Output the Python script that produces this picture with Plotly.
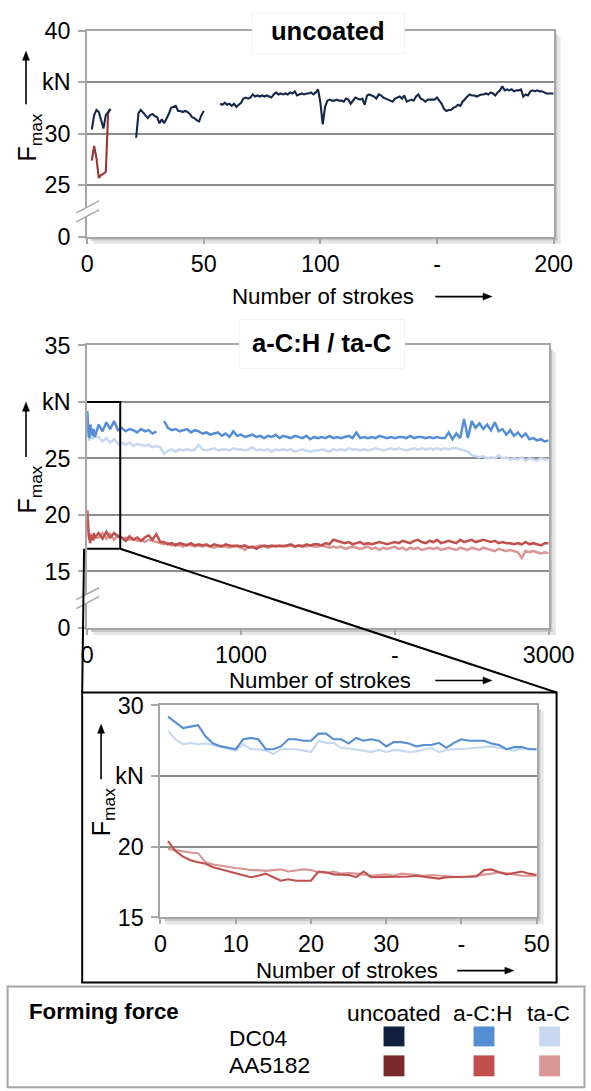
import plotly.graph_objects as go

W, H = 591, 1091
FONT = "Liberation Sans, Arial, sans-serif"

# ---------------- data ----------------
# uncoated (strokes 0..200)
unc_dc04_x = list(range(2, 11)) + [15] + list(range(21, 51)) + [53] + list(range(57, 201))
unc_dc04_y = (
    [30.4, 31.8, 32.3, 32.1, 31.3, 30.5, 31.8, 32.1, 32.4]
    + [None]
    + [29.6, 32.0, 32.3, 32.0, 31.8, 31.5, 31.8, 31.9, 31.7, 31.6,
       31.0, 31.4, 31.0, 31.4, 31.9, 32.5, 32.6, 32.7, 32.2, 32.2,
       32.1, 32.2, 32.1, 31.9, 31.6, 31.5, 31.3, 31.2, 31.8, 32.2]
    + [None]
    + [32.9, 32.8, 33.0, 32.8, 32.9, 32.7, 32.9, 32.6, 32.8, 33.0,
       33.4, 33.5, 33.4, 33.5, 33.8, 33.6, 33.7, 33.6, 33.7, 33.6,
       33.7, 33.6, 33.5, 33.8, 34.0, 33.8, 33.9, 33.8, 33.9, 33.8,
       34.0, 33.9, 34.1, 33.7, 33.8, 33.9, 33.8, 33.9, 33.9, 34.0,
       33.8, 34.0, 34.3, 33.0, 30.9, 32.6, 33.2, 33.3, 33.2, 33.2,
       33.3, 33.2, 33.2, 33.1, 33.4, 33.3, 32.9, 33.2, 33.5, 33.4,
       33.3, 33.4, 32.8, 33.7, 33.8, 33.7, 33.6, 33.4, 33.8, 33.7,
       33.5, 33.4, 33.3, 33.2, 33.1, 33.4, 33.5, 33.6, 33.4, 33.7,
       33.1, 33.2, 33.3, 33.2, 33.6, 33.8, 33.4, 33.3, 33.1, 33.3,
       33.3, 33.3, 33.3, 33.5, 33.2, 32.9, 32.4, 32.2, 32.3, 32.3,
       32.5, 32.6, 32.8, 32.7, 33.1, 33.4, 33.6, 33.8, 33.7, 33.7,
       33.6, 33.7, 33.8, 33.8, 33.9, 33.8, 34.0, 33.9, 33.7, 34.0,
       34.2, 34.6, 34.2, 34.3, 34.2, 34.3, 34.1, 34.2, 34.2, 34.3,
       33.6, 33.8, 33.7, 34.1, 34.2, 34.1, 34.2, 34.1, 34.1, 34.0,
       33.9, 33.9, 33.9, 33.9]
)
unc_aa_x = list(range(2, 11))
unc_aa_y = [27.4, 28.8, 27.6, 25.7, 26.0, 26.1, 26.3, 32.0, 32.4]

# coated (strokes 1..50 then every 25 strokes up to 3000)
strokes_first = list(range(1, 51))
strokes_rest = list(range(75, 3001, 25))
strokes_long = strokes_first + strokes_rest

ach_dc04_first = [29.2, 28.8, 28.4, 28.5, 28.6, 27.8, 27.3, 27.1, 27.0, 26.9,
                  27.6, 27.7, 27.6, 26.9, 26.9, 27.1, 27.6, 27.6, 27.5, 27.5,
                  28.0, 28.0, 27.6, 27.6, 27.3, 27.7, 27.5, 27.6, 27.5, 27.1,
                  27.4, 27.4, 27.3, 27.1, 27.2, 27.2, 27.35, 27.0, 27.35, 27.6,
                  27.5, 27.5, 27.5, 27.3, 27.2, 26.9, 27.05, 27.05, 26.9, 26.9]
ach_dc04_rest = [28.0, 27.4, 28.2, 27.6, 28.3, 27.5,
                 27.7, 27.4, 27.6, 27.5, 27.3, 27.6, 27.4, 27.5, 27.2, 27.4,
                 None,
                 28.3, 27.7, 27.5, 27.6, 27.4, 27.5, 27.6, 27.3, 27.5, 27.4,
                 27.2, 27.3, 27.1, 27.2, 27.3, 27.0, 27.2, 26.9, 27.4, 27.0,
                 27.1, 26.9, 27.0, 27.1, 26.9, 27.0, 26.8, 27.0, 26.9, 27.1,
                 26.8, 27.0, 26.9, 26.8, 27.0, 26.9, 26.8, 27.0, 26.7, 26.9,
                 26.8, 26.9, 26.8, 27.0, 26.8, 26.9, 26.8, 26.9, 27.0, 26.8,
                 27.3, 26.8, 26.9, 26.8, 26.9, 26.8, 27.0, 26.9, 26.8, 26.9,
                 26.8, 26.9, 26.9, 26.8, 27.0, 26.8, 26.9, 26.9, 26.8, 26.9,
                 26.8, 26.9, 26.8, 26.8, 27.3, 26.7, 27.2, 26.8, 28.5, 26.8,
                 28.3, 27.7, 28.1, 27.6, 28.0, 27.5, 28.2, 27.4, 27.6, 27.1,
                 27.5, 27.0, 27.3, 26.9, 27.2, 26.7, 26.8, 26.6, 26.7, 26.5,
                 26.6]

tac_dc04_first = [28.2, 27.6, 27.25, 27.35, 27.25, 27.3, 27.2, 27.1, 26.95, 26.8,
                  27.25, 26.9, 26.9, 26.8, 26.55, 26.9, 26.9, 26.9, 26.8, 26.7,
                  27.5, 27.35, 27.35, 27.0, 26.95, 26.9, 26.8, 26.7, 26.85, 26.7,
                  26.85, 26.8, 26.7, 26.75, 26.9, 27.0, 26.7, 26.85, 26.9, 26.9,
                  26.95, 27.0, 27.05, 27.1, 27.0, 26.9, 26.8, 26.95, 26.9, 26.9]
tac_dc04_rest = [26.9, 26.5, 26.8, 26.4, 26.7, 26.3,
                 26.4, 26.2, 26.4, 26.1, 26.3, 26.2, 26.1, 26.2, 26.0, 26.1,
                 26.0,
                 25.4, 25.7, 25.8, 25.6, 25.8, 25.7, 25.8, 25.7, 25.8, 26.2,
                 25.8, 25.7, 25.8, 25.9, 25.7, 25.8, 25.8, 25.7, 25.9, 25.8,
                 25.8, 25.7, 25.8, 26.0, 25.7, 25.8, 25.7, 25.8, 25.6, 25.8,
                 25.7, 25.8, 25.7, 25.8, 25.6, 25.7, 25.8, 25.7, 25.6, 25.7,
                 25.7, 25.8, 25.7, 25.6, 25.8, 25.7, 25.8, 25.7, 25.9, 25.8,
                 25.8, 25.7, 25.8, 25.7, 25.8, 25.9, 25.8, 25.7, 25.8, 25.9,
                 25.8, 25.9, 25.8, 25.7, 25.8, 25.9, 25.8, 25.9, 25.8, 25.9,
                 25.8, 25.9, 25.8, 25.9, 25.8, 25.9, 25.9, 25.8, 25.7, 25.6,
                 25.3, 25.2, 25.1, 25.2, 25.0, 25.1, 25.0, 25.3, 25.0, 25.1,
                 24.9, 25.0, 24.9, 25.1, 24.8, 25.0, 24.9, 24.8, 25.0, 24.9,
                 24.9]

ach_aa_first = [20.4, 19.7, 19.3, 19.05, 18.9, 18.8, 18.55, 18.4, 18.25, 18.1,
                18.0, 17.85, 17.95, 18.1, 17.85, 17.6, 17.7, 17.6, 17.6, 17.6,
                18.25, 18.2, 18.05, 18.0, 18.0, 17.85, 18.25, 17.85, 17.85, 17.85,
                17.85, 17.85, 17.9, 17.95, 17.9, 17.85, 17.75, 17.85, 17.85, 17.85,
                17.85, 17.9, 18.35, 18.4, 18.2, 18.05, 18.15, 18.25, 18.1, 18.0]
ach_aa_rest = [18.4, 17.9, 18.5, 18.0, 18.4, 18.1,
               18.0, 17.7, 18.1, 17.8, 18.0, 17.7, 18.0, 18.2, 17.8, 18.3,
               17.6,
               17.6, 17.4, 17.5, 17.3, 17.5, 17.4, 17.3, 17.5, 17.3, 17.4,
               17.3, 17.4, 17.2, 17.4, 17.3, 17.2, 17.4, 17.3, 17.2, 17.3,
               17.2, 17.3, 17.1, 17.2, 17.0, 17.2, 17.3, 17.2, 17.3, 17.2,
               17.3, 17.2, 17.3, 17.4, 17.2, 17.3, 17.2, 17.4, 17.3, 17.4,
               17.4, 17.3, 17.5, 17.4, 17.8, 17.7, 17.6, 17.5, 17.6, 17.4,
               17.5, 17.6, 17.4, 17.5, 17.4, 17.5, 17.6, 17.5, 17.4, 17.5,
               17.6, 17.5, 17.7, 17.6, 17.5, 17.7, 17.8, 17.6, 17.5, 17.7,
               17.6, 17.8, 17.5, 17.6, 17.7, 17.6, 17.5, 17.8, 17.6, 17.7,
               17.8, 17.6, 17.7, 17.8, 17.7, 17.6, 17.7, 17.5, 17.6, 17.5,
               17.5, 17.4, 17.5, 17.4, 17.6, 17.4, 17.5, 17.4, 17.3, 17.5,
               17.5]

tac_aa_first = [19.85, 19.75, 19.65, 19.6, 19.55, 18.9, 18.75, 18.65, 18.6, 18.5,
                18.45, 18.35, 18.35, 18.3, 18.35, 18.4, 18.25, 18.35, 18.4, 18.35,
                18.2, 18.15, 18.25, 18.1, 18.15, 18.1, 18.0, 17.95, 18.0, 18.05,
                17.95, 18.1, 18.05, 18.0, 17.95, 18.0, 17.95, 17.9, 17.85, 17.85,
                17.9, 17.95, 18.0, 18.1, 18.2, 18.15, 18.05, 17.95, 17.95, 17.95]
tac_aa_rest = [18.0, 18.4, 17.9, 18.3, 17.8, 18.2,
               17.9, 18.0, 17.8, 17.9, 17.7, 17.8, 17.6, 17.8, 17.7, 17.6,
               17.5,
               17.4, 17.5, 17.3, 17.4, 17.3, 17.2, 17.4, 17.3, 17.2, 17.3,
               17.2, 17.3, 17.2, 17.1, 17.2, 17.3, 17.2, 17.1, 17.3, 17.2,
               17.1, 16.9, 17.2, 17.1, 17.2, 17.3, 17.2, 17.1, 17.2, 17.3,
               17.2, 17.3, 17.2, 17.3, 17.2, 17.3, 17.3, 17.2, 17.3, 17.2,
               17.2, 17.3, 17.2, 17.1, 17.2, 17.1, 17.2, 17.0, 17.1, 17.2,
               17.1, 17.0, 17.1, 17.2, 17.0, 17.1, 16.9, 17.1, 17.0, 17.1,
               17.2, 17.0, 17.1, 16.9, 17.1, 17.0, 17.1, 16.9, 17.0, 17.1,
               17.0, 17.1, 16.9, 17.0, 17.1, 17.0, 16.9, 17.1, 17.0, 16.9,
               17.1, 17.0, 16.9, 17.1, 17.0, 16.9, 16.8, 17.0, 16.9, 16.8,
               16.9, 16.8, 16.7, 16.2, 16.8, 16.7, 16.8, 16.7, 16.6, 16.7,
               16.6]

ach_dc04 = ach_dc04_first + ach_dc04_rest
tac_dc04 = tac_dc04_first + tac_dc04_rest
ach_aa = ach_aa_first + ach_aa_rest
tac_aa = tac_aa_first + tac_aa_rest

# axis ticks
p1_tickvals = [20, 25, 30, 35, 40]
p1_ticktext = ["0", "25", "30", "kN", "40"]
p1_xtickvals = [0, 50, 100, 150, 200]
p1_xticktext = ["0", "50", "100", "-", "200"]
p2_tickvals = [10, 15, 20, 25, 30, 35]
p2_ticktext = ["0", "15", "20", "25", "kN", "35"]
p2_xtickvals = [0, 1000, 2000, 3000]
p2_xticktext = ["0", "1000", "-", "3000"]
p3_tickvals = [15, 20, 25, 30]
p3_ticktext = ["15", "20", "kN", "30"]
p3_xtickvals = [0, 10, 20, 30, 40, 50]
p3_xticktext = ["0", "10", "20", "30", "-", "50"]

zoom_x = [-20, 215]
zoom_y = [17, 30]

# colours
C_UNC_DC = "#15284a"
C_UNC_AA = "#973634"
C_ACH_DC = "#558ed5"
C_TAC_DC = "#c6d9f1"
C_ACH_AA = "#c0504d"
C_TAC_AA = "#d99694"
LEG_UNC_DC = "#10213e"
LEG_UNC_AA = "#7b2a2b"
FRAME = "#a6a6a6"
GRID = "#8c8c8c"

# ---------------- geometry ----------------
# target positions are in picture pixels; the capture maps figure px -> picture px
SX, OX = 0.951, 6.4
SY, OY = 0.979, 11.6
FS = 1 / 0.965  # font compensation

P1 = dict(l=88, t=29.2, r=557, b=236)
P2 = dict(l=88, t=345, r=552, b=628.3)
P3 = dict(l=161.7, t=706, r=540, b=918.7)


def X(p, clamp=True):
    v = (p - OX) / SX
    if clamp:
        v = min(max(v, 0), W - 1)
    return v / W


def Y(p, clamp=True):
    v = (p - OY) / SY
    if clamp:
        v = min(max(v, 0), H - 1)
    return 1 - v / H


def dx(P):
    return [X(P["l"]), X(P["r"])]


def dy(P):
    return [Y(P["b"]), Y(P["t"])]


fig = go.Figure()

LW = 2.1
fig.add_trace(go.Scatter(x=unc_aa_x, y=unc_aa_y, xaxis="x", yaxis="y", mode="lines",
                         line=dict(color=C_UNC_AA, width=LW)))
fig.add_trace(go.Scatter(x=unc_dc04_x, y=unc_dc04_y, xaxis="x", yaxis="y", mode="lines",
                         line=dict(color=C_UNC_DC, width=LW), connectgaps=False))

for ys, col in [(tac_dc04, C_TAC_DC), (ach_dc04, C_ACH_DC), (tac_aa, C_TAC_AA), (ach_aa, C_ACH_AA)]:
    fig.add_trace(go.Scatter(x=strokes_long, y=ys, xaxis="x2", yaxis="y2", mode="lines",
                             line=dict(color=col, width=2.5), connectgaps=False))

for ys, col in [(tac_dc04_first, C_TAC_DC), (ach_dc04_first, C_ACH_DC),
                (tac_aa_first, C_TAC_AA), (ach_aa_first, C_ACH_AA)]:
    fig.add_trace(go.Scatter(x=strokes_first, y=ys, xaxis="x3", yaxis="y3", mode="lines",
                             line=dict(color=col, width=LW)))

TICK_FS = 22.5 * FS
tickfont = dict(family=FONT, size=TICK_FS, color="#000")
xbase = dict(showline=True, linecolor=FRAME, linewidth=2, mirror=True, ticks="outside",
             tickcolor=FRAME, tickwidth=1.5, ticklen=5, tickfont=tickfont, showgrid=False,
             zeroline=False, fixedrange=True, ticklabelstandoff=0)
ybase = dict(showline=True, linecolor=FRAME, linewidth=2, mirror=True, ticks="outside",
             tickcolor=FRAME, tickwidth=1.5, ticklen=7, tickfont=tickfont, showgrid=True,
             gridcolor=GRID, gridwidth=1.5, zeroline=False, fixedrange=True,
             ticklabelstandoff=3)

fig.update_layout(
    width=W, height=H, autosize=False, showlegend=False,
    margin=dict(l=0, r=0, t=0, b=0),
    paper_bgcolor="white", plot_bgcolor="white",
    xaxis=dict(xbase, domain=dx(P1), range=[0, 200], tickvals=p1_xtickvals,
               ticktext=p1_xticktext, anchor="y"),
    yaxis=dict(ybase, domain=dy(P1), range=[20, 40], tickvals=p1_tickvals,
               ticktext=p1_ticktext, anchor="x"),
    xaxis2=dict(xbase, domain=dx(P2), range=[0, 3000], tickvals=p2_xtickvals,
                ticktext=p2_xticktext, anchor="y2"),
    yaxis2=dict(ybase, domain=dy(P2), range=[10, 35], tickvals=p2_tickvals,
                ticktext=p2_ticktext, anchor="x2"),
    xaxis3=dict(xbase, domain=dx(P3), range=[0, 50], tickvals=p3_xtickvals,
                ticktext=p3_xticktext, anchor="y3"),
    yaxis3=dict(ybase, domain=dy(P3), range=[15, 30], tickvals=p3_tickvals,
                ticktext=p3_ticktext, anchor="x3"),
)

shapes = []
annos = []


def prect(x0, y0, x1, y1, clamp=True, **kw):
    d = dict(type="rect", xref="paper", yref="paper", x0=X(x0, clamp), x1=X(x1, clamp),
             y0=Y(y0, clamp), y1=Y(y1, clamp))
    d.update(kw)
    shapes.append(d)


def pline(x0, y0, x1, y1, color, width, layer="above"):
    shapes.append(dict(type="line", xref="paper", yref="paper", x0=X(x0), y0=Y(y0),
                       x1=X(x1), y1=Y(y1), line=dict(color=color, width=width), layer=layer))


def ppoly(pts, color):
    path = "M " + " L ".join("%f,%f" % (X(a), Y(b)) for a, b in pts) + " Z"
    shapes.append(dict(type="path", xref="paper", yref="paper", path=path,
                       fillcolor=color, line=dict(color=color, width=0.5), layer="above"))


def shadow(P):
    prect(P["r"] + 1, P["t"] + 4, P["r"] + 4, P["b"] + 4, fillcolor="#c8c8c8",
          line=dict(width=0), layer="below")
    prect(P["r"] + 4, P["t"] + 6, P["r"] + 7, P["b"] + 7, fillcolor="#e6e6e6",
          line=dict(width=0), layer="below")
    prect(P["l"] + 4, P["b"] + 1, P["r"] + 4, P["b"] + 4, fillcolor="#c8c8c8",
          line=dict(width=0), layer="below")
    prect(P["l"] + 6, P["b"] + 4, P["r"] + 7, P["b"] + 7, fillcolor="#e6e6e6",
          line=dict(width=0), layer="below")


def text(x, y, s, size=21, bold=False, xanchor="center", angle=0):
    annos.append(dict(xref="paper", yref="paper", x=X(x), y=Y(y),
                      text=("<b>" + s + "</b>") if bold else s, showarrow=False,
                      xanchor=xanchor, yanchor="middle", textangle=angle,
                      font=dict(family=FONT, size=size * FS, color="#000")))


def arrow_up(x, ytip, length):
    pline(x, ytip + length, x, ytip + 7, "#000", 1.6)
    ppoly([(x, ytip), (x - 3.5, ytip + 9), (x + 3.5, ytip + 9)], "#000")


def arrow_right(xtip, y, length):
    pline(xtip - length, y, xtip - 7, y, "#000", 1.6)
    ppoly([(xtip, y), (xtip - 9, y - 3.5), (xtip - 9, y + 3.5)], "#000")


def brk(yc):
    shapes.append(dict(type="path", xref="paper", yref="paper",
                       path="M %f,%f L %f,%f L %f,%f L %f,%f Z" % (
                           X(77), Y(yc + 1), X(100), Y(yc - 11), X(100), Y(yc - 2), X(77), Y(yc + 10)),
                       fillcolor="white", line=dict(width=0), layer="above"))
    pline(77, yc + 1, 100, yc - 11, FRAME, 1.5)
    pline(77, yc + 10, 100, yc - 2, FRAME, 1.5)


for P in (P1, P2, P3):
    shadow(P)

# title boxes
prect(254, 6, 407, 52, fillcolor="white", line=dict(color="#f3f3f3", width=1), layer="above")
text(330, 30, "uncoated", size=24.7, bold=True)
prect(241, 319, 407, 368, fillcolor="white", line=dict(color="#f3f3f3", width=1), layer="above")
text(324, 343, "a-C:H / ta-C", size=24.7, bold=True)

# axis breaks
brk(211)
brk(599)

# y-axis titles with arrows
for (xc, yc, xt, yt, L) in [(30, 136, 26.5, 50, 53), (30, 489, 26.5, 402, 55), (104, 813, 102, 725, 55)]:
    text(xc, yc, "F<sub>max</sub>", size=24, angle=-90)
    arrow_up(xt, yt, L)

# x-axis titles with arrows
for (xc, yc, xt) in [(325, 296, 495), (322, 681, 495), (349, 972, 517)]:
    text(xc, yc, "Number of strokes", size=21.5)
    arrow_right(xt, yc, 57)

# zoom rectangle on panel 2 and connector lines to inset box
shapes.append(dict(type="rect", xref="x2", yref="y2", x0=zoom_x[0], x1=zoom_x[1],
                   y0=zoom_y[0], y1=zoom_y[1], line=dict(color="#000", width=2), layer="above"))


def p2x(s):
    return P2["l"] + (s - 0) / 3000 * (P2["r"] - P2["l"])


def p2y(v):
    return P2["b"] - (v - 10) / 25 * (P2["b"] - P2["t"])


BOX = dict(l=83, t=693, r=560, b=984)
pline(p2x(zoom_x[0]), p2y(zoom_y[0]), BOX["l"], BOX["t"], "#000", 2)
pline(p2x(zoom_x[1]), p2y(zoom_y[0]), BOX["r"], BOX["t"], "#000", 2)
prect(BOX["l"], BOX["t"], BOX["r"], BOX["b"], line=dict(color="#000", width=2), layer="above")

# legend box
prect(8, 988, 588, 1089, clamp=False, line=dict(color=FRAME, width=2), layer="above")
text(28, 1013, "Forming force", size=21.5, bold=True, xanchor="left")
text(397, 1014, "uncoated", size=22)
text(486, 1014, "a-C:H", size=22)
text(552, 1014, "ta-C", size=22)
text(229, 1040, "DC04", size=22, xanchor="left")
text(229, 1067, "AA5182", size=22, xanchor="left")
for cx, c1, c2 in [(396.5, LEG_UNC_DC, LEG_UNC_AA), (487, C_ACH_DC, C_ACH_AA), (553, C_TAC_DC, C_TAC_AA)]:
    prect(cx - 10.5, 1028, cx + 10.5, 1048, fillcolor=c1, line=dict(width=0), layer="above")
    prect(cx - 10.5, 1057, cx + 10.5, 1078, fillcolor=c2, line=dict(width=0), layer="above")

fig.update_layout(shapes=shapes, annotations=annos)
fig.write_html("out.html", config={"displayModeBar": False},
               post_script="document.body.style.margin='0';document.body.style.overflow='hidden';")
